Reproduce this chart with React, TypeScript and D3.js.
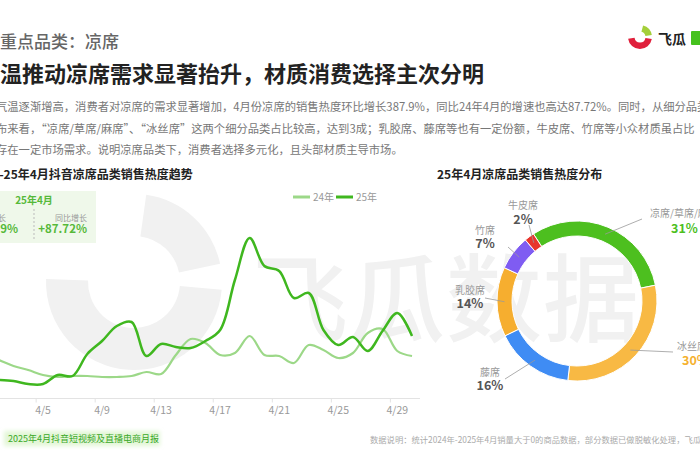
import React from 'react';
import * as d3 from 'd3';

const dayLabels = ['4/1','4/2','4/3','4/4','4/5','4/6','4/7','4/8','4/9','4/10','4/11','4/12','4/13','4/14','4/15','4/16','4/17','4/18','4/19','4/20','4/21','4/22','4/23','4/24','4/25','4/26','4/27','4/28','4/29','4/30'];
const heat2025 = [18,18,17,14,14,23,22,44,57,72,76,42,54,51,50,57,68,118,160,132,127,100,105,68,53,61,47,67,85,62];
const heat2024 = [42,38,32,28,23,21,22,22,21,21,22,26,24,43,59,55,43,45,62,43,42,35,53,48,40,45,65,69,47,42];
const tickLabels = ['4/1','4/5','4/9','4/13','4/17','4/21','4/25','4/29'];
const seriesNames = ['24年','25年'];

const shareNames = ['凉席/草席/麻席','冰丝席','藤席','乳胶席','竹席','牛皮席'];
const shareValues = [31,30,16,14,7,2];
const shareColors = ['#4dbf1f','#f8b944','#3f8cf4','#f6ae2f','#7f5cf2','#e8352d'];

const paragraphLines = [
  '气温逐渐增高，消费者对凉席的需求显著增加，4月份凉席的销售热度环比增长387.9%，同比24年4月的增速也高达87.72%。同时，从细分品类',
  '布来看，“凉席/草席/麻席”、“冰丝席”这两个细分品类占比较高，达到3成；乳胶席、藤席等也有一定份额，牛皮席、竹席等小众材质虽占比',
  '存在一定市场需求。说明凉席品类下，消费者选择多元化，且头部材质主导市场。',
];
const watermarkChars = ['飞','瓜','数','据'];

const FONT = '"Noto Sans CJK SC", "Noto Sans", sans-serif';
const C25 = '#3fb71f';
const C24 = '#9cd888';

// label layout for the donut (leader end, label anchor)
const labelLayout = [
  { ex: 642, ey: 219, lx: 650, ly: 217, px: 671, py: 233, anchor: 'start', pc: '#4dbf1f' },
  { ex: 673, ey: 352, lx: 677, ly: 350, px: 682, py: 365, anchor: 'start', pc: '#f5b12f' },
  { ex: 505, ey: 379, lx: 490, ly: 376, px: 490, py: 390, anchor: 'middle', pc: '#555' },
  { ex: 485, ey: 298, lx: 470, ly: 294, px: 470, py: 308, anchor: 'middle', pc: '#555' },
  { ex: 508, ey: 247, lx: 485, ly: 234, px: 485, py: 248, anchor: 'middle', pc: '#555' },
  { ex: 529, ey: 225, lx: 523, ly: 209, px: 523, py: 224, anchor: 'middle', pc: '#555' },
];

export default function App() {
  const x = d3.scaleBand<string>().domain(dayLabels).range([-23.4, 419.4]);
  const y = d3.scaleLinear().domain([0, 200]).range([398, 198]);
  const cx = (d: string) => (x(d) as number) + x.bandwidth() / 2;
  const lineGen = d3
    .line<number>()
    .x((_, i) => cx(dayLabels[i]))
    .y((v) => y(v))
    .curve(d3.curveCatmullRom.alpha(0.5));

  const a0 = (-33 * Math.PI) / 180;
  const pie = d3.pie<number>().sort(null).startAngle(a0).endAngle(a0 + 2 * Math.PI);
  const arcs = pie(shareValues);
  const arcGen = d3.arc<d3.PieArcDatum<number>>().innerRadius(65).outerRadius(80);
  const dcx = 577, dcy = 301;

  const wmArc = d3.arc()({ innerRadius: 46, outerRadius: 88, startAngle: (95 * Math.PI) / 180, endAngle: (272 * Math.PI) / 180 } as any) as string;
  const wmLeaf = d3.arc()({ innerRadius: 46, outerRadius: 88, startAngle: (8 * Math.PI) / 180, endAngle: (78 * Math.PI) / 180 } as any) as string;
  const logoArc = d3.arc()({ innerRadius: 5.5, outerRadius: 12, startAngle: (100 * Math.PI) / 180, endAngle: (262 * Math.PI) / 180 } as any) as string;
  const logoLeaf = d3.arc()({ innerRadius: 5.5, outerRadius: 12, startAngle: (15 * Math.PI) / 180, endAngle: (80 * Math.PI) / 180 } as any) as string;

  return (
    <svg width={700} height={470} style={{ position: 'absolute', left: 0, top: 0, background: '#fff' }} fontFamily={FONT}>
      <defs>
        <filter id="soft" x="-10%" y="-50%" width="120%" height="200%">
          <feGaussianBlur stdDeviation="2" />
        </filter>
      </defs>
      <rect width={700} height={470} fill="#fff" />

      {/* watermark */}
      <g fill="#f1f1f1">
        <path d={wmArc} transform="translate(134,282)" />
        <path d={wmLeaf} transform="translate(134,282)" />
        {watermarkChars.map((c, i) => (
          <text key={c} x={252 + i * 97} y={334} fontSize={96} fontWeight={500}>{c}</text>
        ))}
      </g>

      {/* header */}
      <text x={0} y={48} fontSize={17} fill="#666" fontWeight={500}>重点品类：凉席</text>
      <text x={0} y={82} fontSize={22} fill="#222" fontWeight={700}>温推动凉席需求显著抬升，材质消费选择主次分明</text>
      {paragraphLines.map((t, i) => (
        <text key={i} x={-4} y={111 + i * 21.5} fontSize={11.3} fill="#777">{t}</text>
      ))}

      {/* logo */}
      <g>
        <path d={logoArc} transform="translate(640,37)" fill="#e0203c" />
        <path d={logoLeaf} transform="translate(640,37)" fill="#a4cf3a" />
        <text x={658} y={44} fontSize={14} fontWeight={600} fill="#222">飞瓜</text>
        <rect x={691} y={31} width={12} height={14} fill="#46c21e" rx={1} />
      </g>

      {/* left chart title */}
      <text x={-27} y={179} fontSize={12} fontWeight={700} fill="#222">24年-25年4月抖音凉席品类销售热度趋势</text>

      {/* legend */}
      <g fontSize={10} fill="#999">
        <line x1={293} x2={310} y1={197} y2={197} stroke={C24} strokeWidth={3} />
        <text x={313} y={201}>{seriesNames[0]}</text>
        <line x1={336} x2={353} y1={197} y2={197} stroke={C25} strokeWidth={3} />
        <text x={356} y={201}>{seriesNames[1]}</text>
      </g>

      {/* info box */}
      <rect x={-30} y={191} width={126} height={52} fill="#eff8ea" />
      <text x={34} y={204} fontSize={10} fontWeight={700} fill="#56b93a" textAnchor="middle">25年4月</text>
      <line x1={34} x2={34} y1={209} y2={241} stroke="#bbb" strokeDasharray="2,2" />
      <text x={6} y={221} fontSize={8} fill="#999" textAnchor="end">环比增长</text>
      <text x={18} y={233} fontSize={11.5} fontWeight={600} fill="#56b93a" textAnchor="end">+387.9%</text>
      <text x={87} y={221} fontSize={8} fill="#999" textAnchor="end">同比增长</text>
      <text x={87} y={233} fontSize={11.5} fontWeight={600} fill="#56b93a" textAnchor="end">+87.72%</text>

      {/* x axis */}
      <line x1={-23} x2={420} y1={398.5} y2={398.5} stroke="#e3e3e3" />
      {tickLabels.map((t) => (
        <g key={t}>
          <line x1={(x(t) as number) + 0.5} x2={(x(t) as number) + 0.5} y1={398.5} y2={402.5} stroke="#e3e3e3" />
          <text x={cx(t)} y={414} fontSize={10.5} fill="#999" textAnchor="middle">{t}</text>
        </g>
      ))}

      {/* lines */}
      <path d={lineGen(heat2024) as string} fill="none" stroke={C24} strokeWidth={2.2} />
      <path d={lineGen(heat2025) as string} fill="none" stroke={C25} strokeWidth={2.5} />

      {/* donut */}
      <text x={437} y={179} fontSize={12} fontWeight={700} fill="#222">25年4月凉席品类销售热度分布</text>
      <g transform={`translate(${dcx},${dcy})`}>
        {arcs.map((a, i) => (
          <path key={i} d={arcGen(a) as string} fill={shareColors[i]} stroke="#fff" strokeWidth={1} />
        ))}
      </g>
      {arcs.map((a, i) => {
        const c = arcGen.centroid(a);
        const L = labelLayout[i];
        return (
          <g key={i}>
            <line x1={dcx + c[0]} y1={dcy + c[1]} x2={L.ex} y2={L.ey} stroke="#999" strokeWidth={0.8} />
            <text x={L.lx} y={L.ly} fontSize={10} fill="#999" textAnchor={L.anchor as any}>{shareNames[i]}</text>
            <text x={L.px} y={L.py} fontSize={12.5} fontWeight={700} fill={L.pc} textAnchor={L.anchor as any}>{shareValues[i]}%</text>
          </g>
        );
      })}

      {/* footer */}
      <rect x={4} y={431} width={156} height={15} fill="#e2f6d6" filter="url(#soft)" />
      <text x={8} y={442} fontSize={9} fill="#3aa828">2025年4月抖音短视频及直播电商月报</text>
      <text x={370} y={443} fontSize={8.3} fill="#aaa">数据说明：统计2024年-2025年4月销量大于0的商品数据，部分数据已做脱敏化处理，飞瓜数据</text>
    </svg>
  );
}
